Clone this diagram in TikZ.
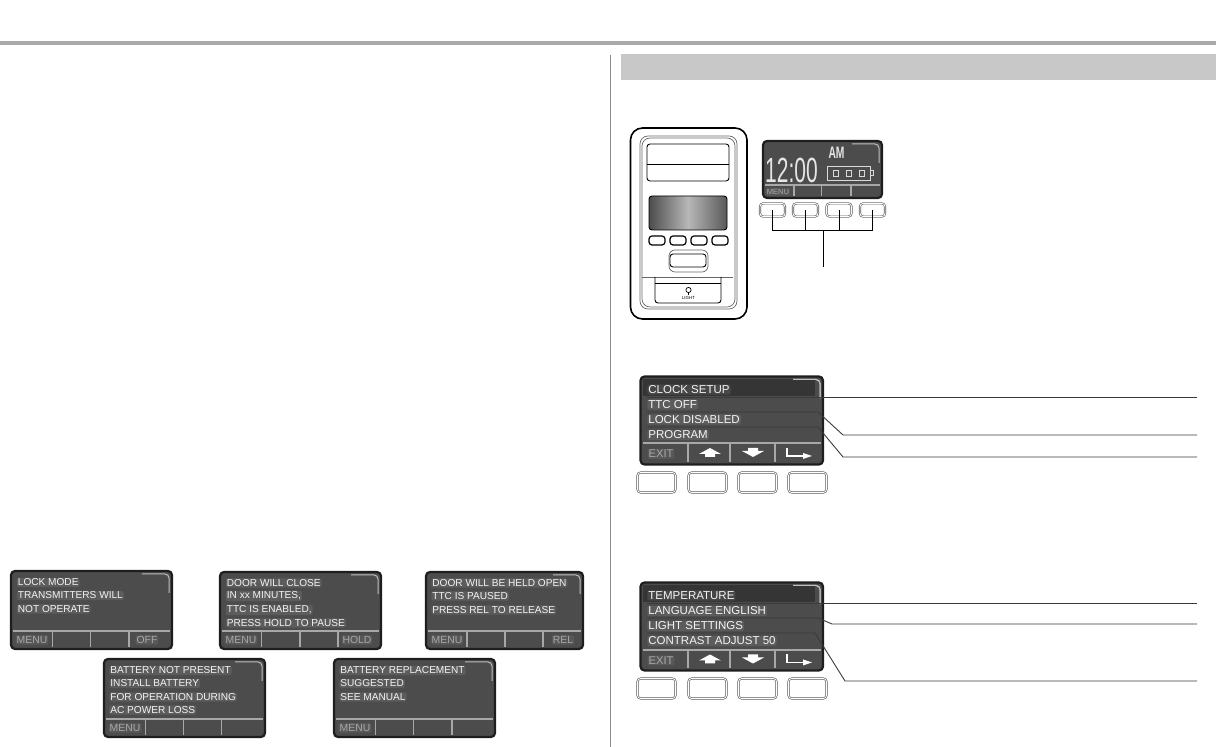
\documentclass[tikz,border=0pt]{standalone}
\usepackage{fontspec}
\usepackage{graphicx}
\setmainfont{Liberation Sans}
\usetikzlibrary{positioning}

\definecolor{lcdbody}{HTML}{4C4C4C}
\definecolor{lcddark}{HTML}{353535}
\definecolor{lcdedge}{HTML}{1E1E1E}
\definecolor{lcdtext}{HTML}{F4F4F4}
\definecolor{softkey}{HTML}{A8A8A8}
\definecolor{rulegray}{HTML}{A9A9A9}
\definecolor{bandgray}{HTML}{C8C8C8}
\definecolor{leadline}{HTML}{3A3A3A}

\tikzset{
  lcdline/.style={anchor=west,text=lcdtext,font=\fontsize{5.05pt}{6pt}\selectfont,inner sep=0.5pt,rounded corners=1pt,fill=white,fill opacity=0.09,text opacity=1},
  softlabel/.style={anchor=center,text=softkey,font=\fontsize{5.2pt}{6pt}\selectfont,inner sep=0.5pt,rounded corners=1pt,fill=white,fill opacity=0.07,text opacity=1},
  menuline/.style={anchor=west,text=lcdtext,font=\fontsize{5.75pt}{6pt}\selectfont,inner sep=0.5pt,rounded corners=1pt,fill=white,fill opacity=0.09,text opacity=1},
  keybtn/.style={draw=black!65,double=white,double distance=0.45pt,line width=0.3pt,rounded corners=1.6pt,inner sep=0pt},
  leader/.style={draw=leadline,line width=0.45pt},
  devline/.style={draw=black,line width=0.45pt,rounded corners=1.5pt},
  frameline/.style={draw=black!60,line width=0.35pt,rounded corners=4pt},
}

% x0 y0 x1 y1 footer d1 d2 d3
\newcommand{\lcdscreen}[8]{
  \fill[lcdbody,rounded corners=2pt] (#1,#2) rectangle (#3,#4);
  \draw[white!75!black,line width=0.5pt,rounded corners=2pt] (#3-30,#2+3) -- (#3-3,#2+3) -- (#3-3,#2+22);
  \draw[softkey,line width=0.8pt] (#1+2,#5) -- (#3-2,#5);
  \foreach \dv in {#6,#7,#8} {
    \draw[softkey,line width=0.8pt] (\dv,#5) -- (\dv,#4-2);
  }
  \draw[lcdedge,line width=1.1pt,rounded corners=2pt] (#1,#2) rectangle (#3,#4);
}

\begin{document}
\begin{tikzpicture}[x=0.5pt,y=-0.5pt]
\useasboundingbox (0,0) rectangle (1216,747);

% page rules
\fill[rulegray] (0,41) rectangle (1216,45);
\draw[black!45,line width=0.35pt] (610,55) -- (610,747);
\fill[bandgray] (621,54) rectangle (1216,80);

% left screens
\lcdscreen{11}{571}{172}{649}{631}{52.5}{90.5}{129}
\draw(16.5,582.5) node[lcdline] (lockA) {LOCK MODE};
\draw(16.5,595.5) node[lcdline] (lockB) {TRANSMITTERS WILL};
\draw(16.5,609) node[lcdline] (lockC) {NOT OPERATE};
\draw(32,640) node[softlabel] (lockmenu) {MENU};
\draw(147,640) node[softlabel] (lockoff) {OFF};

\lcdscreen{220}{572}{381}{649}{631}{261.5}{300}{338}
\draw(225.5,583) node[lcdline] (doorA) {DOOR WILL CLOSE};
\draw(225.5,596) node[lcdline] (doorB) {IN xx MINUTES,};
\draw(225.5,610) node[lcdline] (doorC) {TTC IS ENABLED,};
\draw(225.5,623) node[lcdline] (doorD) {PRESS HOLD TO PAUSE};
\draw(241,640) node[softlabel] (doormenu) {MENU};
\draw(357,640) node[softlabel] (doorhold) {HOLD};

\lcdscreen{426}{572}{583}{649}{631}{467}{505}{543}
\draw(431,583) node[lcdline] (heldA) {DOOR WILL BE HELD OPEN};
\draw(431,596) node[lcdline] (heldB) {TTC IS PAUSED};
\draw(431,610) node[lcdline] (heldC) {PRESS REL TO RELEASE};
\draw(447,640) node[softlabel] (heldmenu) {MENU};
\draw(563,640) node[softlabel] (heldrel) {REL};

\lcdscreen{104}{659}{265}{737}{719}{145.5}{183.5}{221.5}
\draw(109,670.5) node[lcdline] (battA) {BATTERY NOT PRESENT};
\draw(109,683.5) node[lcdline] (battB) {INSTALL BATTERY};
\draw(109,697) node[lcdline] (battC) {FOR OPERATION DURING};
\draw(109,710) node[lcdline] (battD) {AC POWER LOSS};
\draw(125,728) node[softlabel] (battmenu) {MENU};

\lcdscreen{334}{659}{495}{737}{719}{375.5}{413.5}{452}
\draw(339,670.5) node[lcdline] (replA) {BATTERY REPLACEMENT};
\draw(339,683.5) node[lcdline] (replB) {SUGGESTED};
\draw(339,697) node[lcdline] (replC) {SEE MANUAL};
\draw(355,728) node[softlabel] (replmenu) {MENU};

% wall control
\draw[black,line width=0.8pt,rounded corners=6pt] (630.5,128) rectangle (747,319);
\draw[frameline] (640,136) rectangle (737,309);
\draw[frameline] (642,138) rectangle (735,307);
\draw[devline] (647,144) rectangle (729,181);
\draw[devline] (647,164) -- (729,164);
\draw[devline,left color=black!70,right color=black!65,middle color=black!28] (649,196) rectangle (727,230);
\foreach \bx in {649,670,691,712} {
  \draw[devline,line width=0.6pt] (\bx,236) rectangle (\bx+16,245);
}
\draw[frameline,rounded corners=3pt] (669,250) rectangle (708,272);
\draw[devline] (670,254) rectangle (706,267);
\draw[frameline,rounded corners=0pt] (642,277) -- (733,277);
\draw[devline] (655,277) -- (655,303) -- (721,303) -- (721,277);
\draw[devline] (655,283) -- (721,283);
\draw[black,line width=0.35pt] (688.5,290) circle (2.6);
\draw[black,line width=0.35pt] (688.5,293) -- (688.5,295);
\draw(688.5,298) node[inner sep=0pt,font=\fontsize{2.2pt}{3pt}\selectfont] (lightlabel) {LIGHT};

% clock display
\lcdscreen{763}{141}{882}{198}{185}{794}{821.5}{851}
\draw(791.5,170) node[inner sep=0pt,text=white!90!black,font=\fontsize{17.5pt}{18pt}\selectfont] (clocktime) {\scalebox{0.6}[1]{12:00}};
\draw(836.5,152.5) node[inner sep=0pt,text=white!90!black,font=\bfseries\fontsize{8.3pt}{9pt}\selectfont] (clockam) {\scalebox{0.62}[1]{AM}};
\draw[white!85!black,line width=0.4pt] (827,166) rectangle (870,180);
\draw[white!85!black,line width=0.4pt] (870,170) -- (873,170) -- (873,175) -- (870,175);
\foreach \cx in {833,846,859} {
  \draw[white!85!black,line width=0.4pt] (\cx,170) rectangle (\cx+5,176);
}
\draw(778,192) node[softlabel,font=\fontsize{3.8pt}{4pt}\selectfont] (clockmenu) {MENU};

\draw(772.5,210) node[keybtn,minimum width=12.5pt,minimum height=6.6pt] (clockkeyA) {};
\draw(805.5,210) node[keybtn,minimum width=12.5pt,minimum height=6.6pt] (clockkeyB) {};
\draw(839,210) node[keybtn,minimum width=12.5pt,minimum height=6.6pt] (clockkeyC) {};
\draw(872.5,210) node[keybtn,minimum width=12.5pt,minimum height=6.6pt] (clockkeyD) {};
\coordinate (clockbus) at (823,230);
\coordinate (clockfoot) at (823,267);
\draw[devline,rounded corners=0pt] (clockkeyA.center) |- (clockbus);
\draw[devline,rounded corners=0pt] (clockkeyB.center) |- (clockbus);
\draw[devline,rounded corners=0pt] (clockkeyC.center) |- (clockbus);
\draw[devline,rounded corners=0pt] (clockkeyD.center) |- (clockbus);
\draw[devline,rounded corners=0pt] (clockbus) -- (clockfoot);

% first menu
\lcdscreen{640.5}{376.5}{823}{464.5}{443}{688}{730}{775}
\fill[lcddark] (643,379) rectangle (815,396.5);
\draw[white!75!black,line width=0.5pt,rounded corners=2pt] (793,379.5) -- (820,379.5) -- (820,398);
\draw(647,389.5) node[menuline] (setA) {CLOCK SETUP};
\draw(647,404.5) node[menuline] (setB) {TTC OFF};
\draw(647,419.5) node[menuline] (setC) {LOCK DISABLED};
\draw(647,435) node[menuline] (setD) {PROGRAM};
\draw(661,454) node[softlabel,font=\fontsize{5.6pt}{6pt}\selectfont] (setexit) {EXIT};
\fill[white] (699,454) -- (710,448) -- (721,454) -- (715,454) -- (715,457) -- (705,457) -- (705,454) -- cycle;
\fill[white] (748,448) -- (758,448) -- (758,451) -- (764,451) -- (753,457) -- (742,451) -- (748,451) -- cycle;
\draw[white,line width=0.8pt] (787,448) -- (787,456) -- (805,456);
\fill[white] (803,453) -- (812,456) -- (803,459) -- cycle;

\coordinate (clockrow) at (647,397);
\coordinate (clockend) at (1197,397);
\coordinate (ttcrow) at (647,412);
\coordinate (ttcbend) at (818,412);
\coordinate (ttcdog) at (843,435);
\coordinate (ttcend) at (1197,435);
\coordinate (lockrow) at (647,427);
\coordinate (lockbend) at (818,427);
\coordinate (lockdog) at (843,457);
\coordinate (lockend) at (1197,457);
\draw[leader] (clockrow) -- (clockend);
\draw[leader] (ttcrow) -- (ttcbend) -- (ttcdog) -- (ttcend);
\draw[leader] (lockrow) -- (lockbend) -- (lockdog) -- (lockend);

\foreach \kx/\kn in {656.5/A,707.5/B,757.5/C,807.5/D} {
  \draw(\kx,482.5) node[keybtn,minimum width=19pt,minimum height=10pt] (setkey\kn) {};
}

% second menu
\lcdscreen{640.5}{582.5}{823}{670.5}{650}{688}{730}{775}
\fill[lcddark] (643,585) rectangle (815,602.5);
\draw[white!75!black,line width=0.5pt,rounded corners=2pt] (793,585.5) -- (820,585.5) -- (820,604);
\draw(647,595.5) node[menuline] (tempA) {TEMPERATURE};
\draw(647,611) node[menuline] (tempB) {LANGUAGE ENGLISH};
\draw(647,626) node[menuline] (tempC) {LIGHT SETTINGS};
\draw(647,641) node[menuline] (tempD) {CONTRAST ADJUST 50};
\draw(661,660.5) node[softlabel,font=\fontsize{5.6pt}{6pt}\selectfont] (tempexit) {EXIT};
\fill[white] (699,660.5) -- (710,654.5) -- (721,660.5) -- (715,660.5) -- (715,663.5) -- (705,663.5) -- (705,660.5) -- cycle;
\fill[white] (748,654.5) -- (758,654.5) -- (758,657.5) -- (764,657.5) -- (753,663.5) -- (742,657.5) -- (748,657.5) -- cycle;
\draw[white,line width=0.8pt] (787,654.5) -- (787,662.5) -- (805,662.5);
\fill[white] (803,659.5) -- (812,662.5) -- (803,665.5) -- cycle;

\coordinate (temprow) at (647,603);
\coordinate (tempend) at (1197,603);
\coordinate (langrow) at (647,618);
\coordinate (langbend) at (818,618);
\coordinate (langdog) at (832,624);
\coordinate (langend) at (1197,624);
\coordinate (lightrow) at (647,633);
\coordinate (lightbend) at (815,633);
\coordinate (lightdog) at (845,681);
\coordinate (lightend) at (1197,681);
\draw[leader] (temprow) -- (tempend);
\draw[leader] (langrow) -- (langbend) -- (langdog) -- (langend);
\draw[leader] (lightrow) -- (lightbend) -- (lightdog) -- (lightend);

\foreach \kx/\kn in {656.5/A,707.5/B,757.5/C,807.5/D} {
  \draw(\kx,688.5) node[keybtn,minimum width=19pt,minimum height=10pt] (tempkey\kn) {};
}
\end{tikzpicture}
\end{document}
